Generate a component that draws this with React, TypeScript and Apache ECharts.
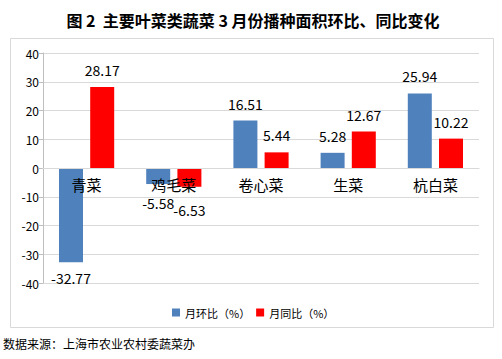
import React, { useEffect, useRef } from "react";
import * as echarts from "echarts";

const categories = ["青菜", "鸡毛菜", "卷心菜", "生菜", "杭白菜"];
const momValues = [-32.77, -5.58, 16.51, 5.28, 25.94];
const yoyValues = [28.17, -6.53, 5.44, 12.67, 10.22];
const seriesNames = ["月环比（%）", "月同比（%）"];
const titleText = "图 2  主要叶菜类蔬菜 3 月份播种面积环比、同比变化";
const sourceText = "数据来源：上海市农业农村委蔬菜办";

const FONT = "'Noto Sans CJK SC', 'Noto Sans', sans-serif";

function buildData(values: number[], extraDist: number[] = []) {
  return values.map((v, i) => ({
    value: v,
    label: {
      position: v < 0 ? "bottom" : "top",
      distance: (v < 0 ? 9 : 10) + (extraDist[i] || 0),
    },
  }));
}

export default function App() {
  const ref = useRef<HTMLDivElement>(null);
  useEffect(() => {
    document.body.style.margin = "0";
    if (!ref.current) return;
    const chart = echarts.init(ref.current, undefined, { renderer: "svg" });
    const labelStyle = {
      show: true,
      fontSize: 14,
      color: "#000",
      fontFamily: FONT,
    };
    chart.setOption({
      animation: false,
      backgroundColor: "#fff",
      title: {
        text: titleText,
        left: 248,
        textAlign: "center",
        top: 7,
        textStyle: {
          fontSize: 16,
          fontWeight: "bold",
          color: "#000",
          fontFamily: FONT,
        },
      },
      graphic: [
        {
          type: "rect",
          shape: { x: 10.5, y: 38.5, width: 483, height: 289 },
          style: { fill: "none", stroke: "#d9d9d9", lineWidth: 1 },
          z: -1,
        },
        {
          type: "text",
          left: 3,
          top: 337,
          style: {
            text: sourceText,
            fontSize: 12,
            fill: "#000",
            fontFamily: FONT,
          },
        },
      ],
      legend: {
        data: seriesNames,
        left: 167,
        top: 302,
        itemWidth: 8,
        itemHeight: 8,
        itemGap: 6,
        icon: "rect",
        textStyle: { fontSize: 11, color: "#000", fontFamily: FONT },
      },
      grid: { left: 43, right: 23, top: 53, bottom: 76, containLabel: false },
      xAxis: {
        type: "category",
        data: categories,
        z: 10,
        position: "bottom",
        offset: -115,
        axisLine: { onZero: false, lineStyle: { color: "#d9d9d9", width: 1 } },
        axisTick: { show: false },
        axisLabel: { fontSize: 15, color: "#000", margin: 9, fontFamily: FONT },
      },
      yAxis: {
        type: "value",
        min: -40,
        max: 40,
        interval: 10,
        axisLine: { show: true, lineStyle: { color: "#bfbfbf" } },
        axisTick: { show: true, length: 4, lineStyle: { color: "#bfbfbf" } },
        axisLabel: { fontSize: 12, color: "#000", margin: 4, fontFamily: FONT },
        splitLine: { lineStyle: { color: "#d9d9d9" } },
      },
      series: [
        {
          name: seriesNames[0],
          type: "bar",
          data: buildData(momValues, [0, 3, 0, 0, 0]),
          barWidth: 24,
          barGap: "30%",
          itemStyle: { color: "#4F81BD" },
          label: labelStyle,
        },
        {
          name: seriesNames[1],
          type: "bar",
          data: buildData(yoyValues, [0, 7, 0, 0, 0]),
          barWidth: 24,
          itemStyle: { color: "#FF0000" },
          label: labelStyle,
        },
      ],
    });
    return () => chart.dispose();
  }, []);
  return <div ref={ref} style={{ width: 502, height: 359 }} />;
}
